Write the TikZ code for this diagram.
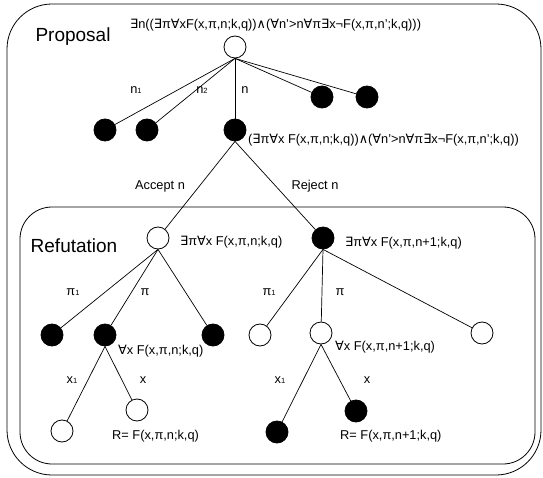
\documentclass[tikz,border=0pt]{standalone}
\usepackage{fontspec}
\setmainfont{Liberation Sans}
\newfontfamily\symf{DejaVu Sans}
\newcommand\Ex{{\symf ∃}}
\newcommand\Al{{\symf ∀}}
\newcommand\Land{{\symf ∧}}
\newcommand\sbone{\raisebox{-0.6pt}{\fontsize{7.5}{8}\selectfont 1}}
\begin{document}
\begin{tikzpicture}[x=1pt,y=-1pt,
  wn/.style={circle, draw=black, fill=white, minimum size=22pt, inner sep=0pt, line width=0.8pt},
  bn/.style={circle, draw=black, fill=black, minimum size=22pt, inner sep=0pt, line width=0.8pt},
  lbl/.style={font=\fontsize{12.8}{15}\selectfont, inner sep=0pt},
  ttl/.style={font=\fontsize{19}{22}\selectfont, inner sep=0pt},
  ed/.style={draw=black, line width=0.7pt},
  box/.style={draw=black, line width=0.8pt}]
\useasboundingbox (0,0) rectangle (543,478);
% frames
\draw[box, rounded corners=45pt] (7,4) rectangle (541,475);
\draw[box, rounded corners=32pt] (20,207) rectangle (535,464);
\node[ttl] (tprop) at (73,37) {Proposal};
\node[ttl] (tref) at (74,246) {Refutation};
% proposal tree
\node[wn] (root) at (235,47) {};
\node[bn] (a1) at (105,130) {};
\node[bn] (a2) at (147,130) {};
\node[bn] (a3) at (235,130) {};
\node[bn] (a4) at (322,97) {};
\node[bn] (a5) at (367,97) {};
\node[lbl, anchor=west] (lroot) at (130,25) {\Ex n((\Ex π\Al xF(x,π,n;k,q))\Land(\Al n'>n\Al π\Ex x¬F(x,π,n';k,q)))};
\node[lbl, anchor=west] (la3) at (248,140) {(\Ex π\Al x F(x,π,n;k,q))\Land(\Al n'>n\Al π\Ex x¬F(x,π,n';k,q))};
\draw[ed] (root.south) -- (a1);
\draw[ed] (root.south) -- (a2);
\draw[ed] (root.south) -- (a3);
\draw[ed] (root.south) -- (a4);
\draw[ed] (root.south) -- (a5);
\node[lbl] (ln1) at (136,90) {n\sbone};
\node[lbl] (ln2) at (202,90) {n{\raisebox{-0.6pt}{\fontsize{7.5}{8}\selectfont 2}}};
\node[lbl] (ln) at (245,90) {n};
% refutation roots
\node[wn] (b1) at (158,238) {};
\node[bn] (b2) at (323,238) {};
\draw[ed] (a3.south) -- (b1);
\draw[ed] (a3.south) -- (b2);
\node[lbl] (lacc) at (160,186) {Accept n};
\node[lbl] (lrej) at (315,186) {Reject n};
\node[lbl, anchor=west] (lb1) at (180,242) {\Ex π\Al x F(x,π,n;k,q)};
\node[lbl, anchor=west] (lb2) at (345,243) {\Ex π\Al x F(x,π,n+1;k,q)};
% level c
\node[bn] (c1) at (52,335) {};
\node[bn] (c2) at (105,335) {};
\node[bn] (c3) at (213,335) {};
\node[wn] (c4) at (260,335) {};
\node[wn] (c5) at (321,333) {};
\node[wn] (c6) at (482,333) {};
\draw[ed] (b1.south) -- (c1);
\draw[ed] (b1.south) -- (c2);
\draw[ed] (b1.south) -- (c3);
\draw[ed] (b2.south) -- (c4);
\draw[ed] (b2.south) -- (c5);
\draw[ed] (b2.south) -- (c6);
\node[lbl] (lp1) at (73,292) {π\sbone};
\node[lbl] (lp2) at (145,292) {π};
\node[lbl] (lp3) at (269,292) {π\sbone};
\node[lbl] (lp4) at (340,292) {π};
\node[lbl, anchor=west] (lc2) at (118,351) {\Al x F(x,π,n;k,q)};
\node[lbl, anchor=west] (lc5) at (335,347) {\Al x F(x,π,n+1;k,q)};
% leaves
\node[wn] (d1) at (62,431) {};
\node[wn] (d2) at (137,410) {};
\node[bn] (d3) at (277,432) {};
\node[bn] (d4) at (356,411) {};
\draw[ed] (c2.south) -- (d1);
\draw[ed] (c2.south) -- (d2);
\draw[ed] (c5.south) -- (d3);
\draw[ed] (c5.south) -- (d4);
\node[lbl] (lx1) at (72,380) {x\sbone};
\node[lbl] (lx2) at (143,380) {x};
\node[lbl] (lx3) at (280,380) {x\sbone};
\node[lbl] (lx4) at (367,380) {x};
\node[lbl, anchor=west] (lr1) at (112,436) {R= F(x,π,n;k,q)};
\node[lbl, anchor=west] (lr2) at (340,436) {R= F(x,π,n+1;k,q)};
\end{tikzpicture}
\end{document}
